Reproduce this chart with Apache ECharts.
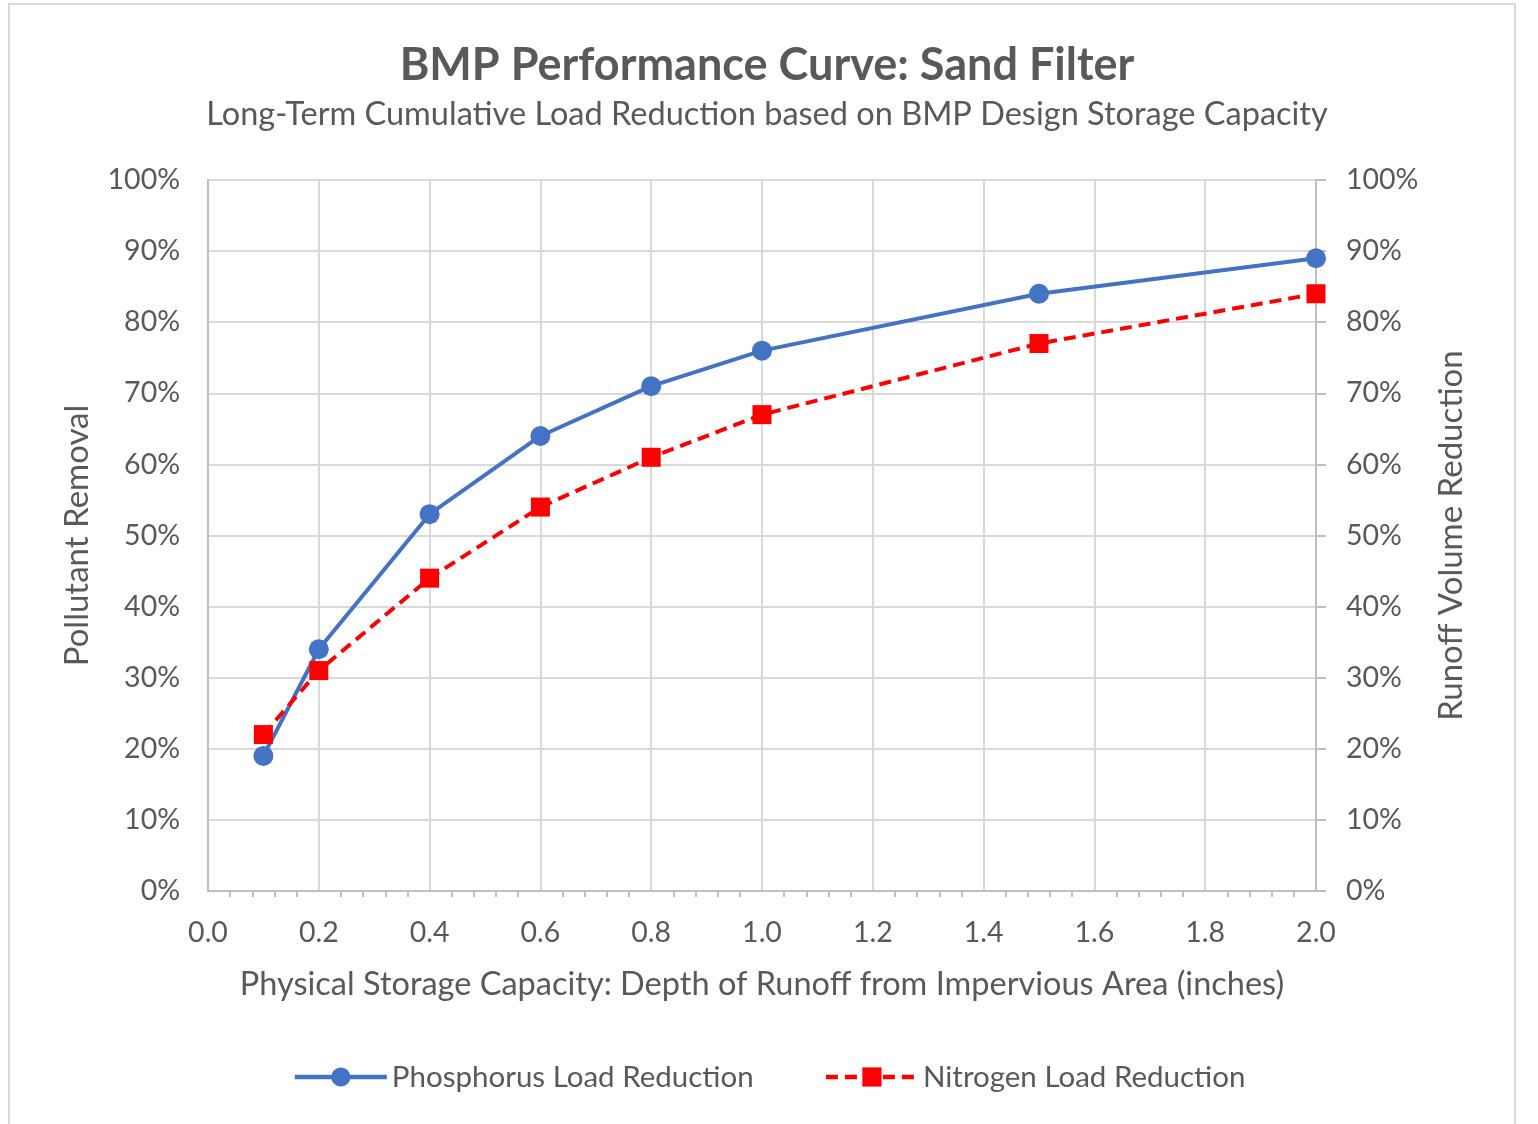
<!DOCTYPE html>
<html><head><meta charset="utf-8">
<script src="https://cdn.jsdelivr.net/npm/echarts@6/dist/echarts.min.js"></script>
<style>html,body{margin:0;padding:0;background:#fff}#c{width:1538px;height:1124px}</style>
</head><body><div id="c"></div>
<script>
const depth = [0.1, 0.2, 0.4, 0.6, 0.8, 1.0, 1.5, 2.0];
const phosphorus = [19, 34, 53, 64, 71, 76, 84, 89];
const nitrogen = [22, 31, 44, 54, 61, 67, 77, 84];
const seriesNames = ['Phosphorus Load Reduction', 'Nitrogen Load Reduction'];
const titleText = 'BMP Performance Curve: Sand Filter';
const subtitleText = 'Long-Term Cumulative Load Reduction based on BMP Design Storage Capacity';

const FONT = 'Lato';
const TXT = '#595959';
const chart = echarts.init(document.getElementById('c'));
const pair = (xs, ys) => xs.map((x, i) => [x, ys[i]]);
chart.setOption({
  animation: false,
  textStyle: {fontFamily: FONT, color: TXT},
  graphic: [{type: 'rect', shape: {x: 9, y: 4, width: 1506, height: 1135}, style: {fill: 'none', stroke: '#d9d9d9', lineWidth: 2}, silent: true}],
  title: [
    {text: titleText, left: 762, top: 38, textAlign: 'center', textStyle: {fontFamily: FONT, fontSize: 45, fontWeight: 'bold', color: TXT}},
    {text: subtitleText, left: 762, top: 93, textAlign: 'center', textStyle: {fontFamily: FONT, fontSize: 32.5, fontWeight: 'normal', color: TXT}}
  ],
  grid: {left: 208, right: 222, top: 180, bottom: 233, containLabel: false},
  legend: {
    bottom: 27, left: 'center', itemWidth: 92, itemHeight: 24, itemGap: 70,
    lineStyle: {width: 4.5},
    textStyle: {fontFamily: FONT, fontSize: 29.5, color: TXT},
    data: seriesNames
  },
  xAxis: {
    type: 'value', min: 0, max: 2, interval: 0.2,
    name: 'Physical Storage Capacity: Depth of Runoff from Impervious Area (inches)',
    nameLocation: 'middle', nameGap: 77,
    nameTextStyle: {fontFamily: FONT, fontSize: 32.5, color: TXT},
    axisLine: {show: true, lineStyle: {color: '#bfbfbf', width: 2}},
    axisTick: {show: false},
    minorTick: {show: true, splitNumber: 5, length: 6, lineStyle: {color: '#bfbfbf', width: 2}},
    axisLabel: {margin: 27, fontSize: 28.5, color: TXT, formatter: v => v.toFixed(1)},
    splitLine: {show: true, lineStyle: {color: '#d9d9d9', width: 2}}
  },
  yAxis: [
    {
      type: 'value', min: 0, max: 100, interval: 10,
      name: 'Pollutant Removal', nameLocation: 'middle', nameGap: 114,
      nameTextStyle: {fontFamily: FONT, fontSize: 33, color: TXT},
      axisLine: {show: true, lineStyle: {color: '#bfbfbf', width: 2}},
      axisTick: {show: false},
      axisLabel: {margin: 28, fontSize: 28.5, color: TXT, formatter: v => v + '%'},
      splitLine: {show: true, lineStyle: {color: '#d9d9d9', width: 2}}
    },
    {
      type: 'value', min: 0, max: 100, interval: 10, position: 'right',
      name: 'Runoff Volume Reduction', nameLocation: 'middle', nameGap: 119,
      nameTextStyle: {fontFamily: FONT, fontSize: 33, color: TXT},
      axisLine: {show: true, lineStyle: {color: '#bfbfbf', width: 2}},
      axisTick: {show: true, length: 10, lineStyle: {color: '#bfbfbf', width: 2}},
      axisLabel: {margin: 30, fontSize: 28.5, color: TXT, formatter: v => v + '%'},
      splitLine: {show: false}
    }
  ],
  series: [
    {
      name: seriesNames[0], type: 'line', data: pair(depth, phosphorus),
      symbol: 'circle', symbolSize: 20,
      lineStyle: {color: '#4472c4', width: 4},
      itemStyle: {color: '#4472c4'}
    },
    {
      name: seriesNames[1], type: 'line', data: pair(depth, nitrogen),
      symbol: 'rect', symbolSize: 19,
      lineStyle: {color: '#ff0000', width: 4, type: [12, 7]},
      itemStyle: {color: '#ff0000'}
    }
  ]
});
</script></body></html>
